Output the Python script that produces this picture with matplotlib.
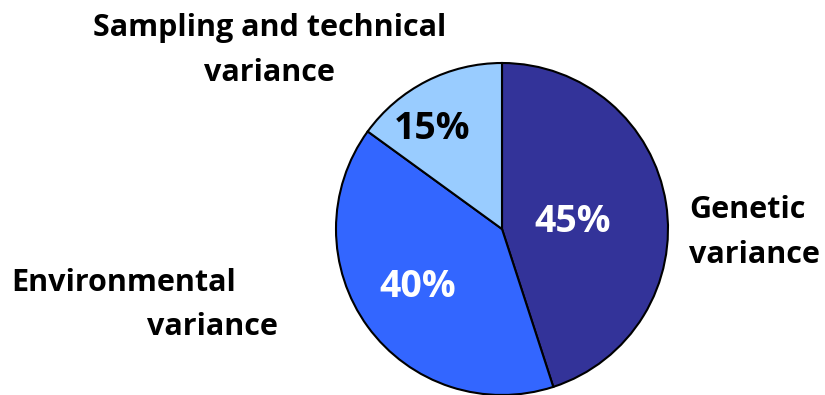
import matplotlib.pyplot as plt

# variance components
labels = ['Genetic variance', 'Environmental variance', 'Sampling and technical variance']
shares = [45, 40, 15]
colors = ['#333399', '#3366FF', '#99CCFF']
pct_colors = ['white', 'white', 'black']

plt.rcParams['font.family'] = ['Open Sans', 'DejaVu Sans']
plt.rcParams['font.weight'] = 'bold'

fig = plt.figure(figsize=(8.25, 3.95), dpi=100)
ax = fig.add_axes([0, 0, 1, 1])

wedges, texts, autotexts = ax.pie(
    shares, colors=colors, startangle=90, counterclock=False,
    center=(502, 166), radius=166, frame=True,
    wedgeprops=dict(edgecolor='black', linewidth=1.5),
    autopct=lambda p: '%d%%' % round(p), pctdistance=0.5,
    textprops=dict(fontsize=27, fontweight='bold'))
ax.set_xlim(0, 825)
ax.set_ylim(0, 395)
ax.set_aspect('equal')
ax.axis('off')
for t, c in zip(autotexts, pct_colors):
    t.set_color(c)
autotexts[0].set_position((573, 173))
autotexts[1].set_position((418, 108))
autotexts[2].set_position((432, 266))

fs = 22
ax.text(270, 367, 'Sampling and technical', ha='center', va='center', fontsize=fs)
ax.text(269, 322, 'variance', ha='center', va='center', fontsize=fs)
ax.text(689, 185, 'Genetic', ha='left', va='center', fontsize=fs)
ax.text(689, 140, 'variance', ha='left', va='center', fontsize=fs)
ax.text(11, 112, 'Environmental', ha='left', va='center', fontsize=fs)
ax.text(147, 68, 'variance', ha='left', va='center', fontsize=fs)

fig.savefig('out.png', dpi=100)
